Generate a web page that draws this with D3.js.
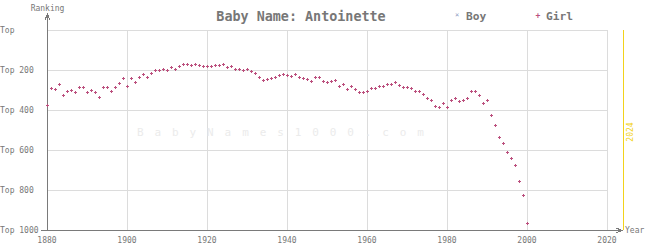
<!DOCTYPE html>
<html>
<head>
<meta charset="utf-8">
<style>
  body { margin: 0; background: #fff; }
  svg { display: block; font-family: "DejaVu Sans Mono", monospace; }
  .grid line { stroke: #dcdcdc; stroke-width: 1; shape-rendering: crispEdges; }
  .axis-line { stroke: #7a7a7a; stroke-width: 1; shape-rendering: crispEdges; fill: none; }
  .lbl { fill: #777; font-size: 8px; }
</style>
<title>Baby Name: Antoinette</title>
</head>
<body>
<script src="https://cdn.jsdelivr.net/npm/d3@7"></script>
<script>

// girl ranking per year (boy series has no entries)
var years = d3.range(1880, 2001);
var girlRanks = [
  375, 292, 297, 270, 325, 305, 302, 312, 287, 287,
  312, 302, 312, 337, 287, 287, 307, 287, 267, 242,
  280, 242, 262, 237, 222, 237, 217, 202, 202, 197,
  202, 187, 197, 182, 172, 172, 177, 172, 177, 181,
  182, 182, 177, 177, 172, 185, 180, 197, 197, 202,
  197, 207, 217, 237, 252, 247, 242, 237, 227, 222,
  227, 232, 222, 237, 242, 247, 257, 237, 237, 257,
  262, 257, 252, 282, 272, 297, 282, 297, 312, 312,
  307, 292, 292, 282, 282, 272, 272, 262, 277, 287,
  287, 292, 307, 307, 322, 342, 352, 382, 387, 367,
  387, 352, 342, 357, 352, 342, 307, 307, 327, 367,
  352, 427, 477, 537, 567, 612, 642, 677, 757, 827,
  967
];
var yearTicks = [1880, 1900, 1920, 1940, 1960, 1980, 2000, 2020];
var rankTicks = [0, 200, 400, 600, 800, 1000];
var currentYear = 2024;

var width = 645, height = 250;

var x = d3.scaleLinear().domain([1880, 2020]).range([47, 607]);
var y = d3.scaleLinear().domain([0, 1000]).range([30, 230]);

var svg = d3.select('body').append('svg')
  .attr('width', width)
  .attr('height', height);

// grid
var grid = svg.append('g').attr('class', 'grid');
grid.selectAll('.vg')
  .data(yearTicks.filter(d => d > 1880))
  .enter().append('line')
    .attr('x1', d => Math.round(x(d)) + 0.5)
    .attr('x2', d => Math.round(x(d)) + 0.5)
    .attr('y1', y(0))
    .attr('y2', y(1000));
grid.selectAll('.hg')
  .data(rankTicks.filter(d => d < 1000))
  .enter().append('line')
    .attr('x1', x(1880))
    .attr('x2', x(2020))
    .attr('y1', d => Math.round(y(d)) + 0.5)
    .attr('y2', d => Math.round(y(d)) + 0.5);

// watermark
svg.append('text')
  .attr('x', 137)
  .attr('y', 136)
  .attr('fill', '#ebebeb')
  .attr('font-size', '11px')
  .attr('letter-spacing', '10.9px')
  .text('BabyNames1000.com');

// current year line
svg.append('line')
  .attr('x1', Math.round(x(currentYear)) + 0.5)
  .attr('x2', Math.round(x(currentYear)) + 0.5)
  .attr('y1', y(0))
  .attr('y2', y(1000))
  .attr('stroke', '#f2d21b')
  .attr('stroke-width', 1);
svg.append('text')
  .attr('transform', `translate(${x(currentYear) + 10},${(y(0) + y(1000)) / 2 + 2}) rotate(-90)`)
  .attr('text-anchor', 'middle')
  .attr('fill', '#f2d21b')
  .attr('font-size', '8px')
  .text(currentYear);

// axes
var ax = Math.round(x(1880)) + 0.5, ay = Math.round(y(1000)) + 0.5;
svg.append('path').attr('class', 'axis-line')
  .attr('d', `M${ax},${ay}V15`);
svg.append('path').attr('class', 'axis-line')
  .attr('d', `M${ax - 2.5},20L${ax},14L${ax + 2.5},20`);
svg.append('path').attr('class', 'axis-line')
  .attr('d', `M${ax},${ay}H622`);
svg.append('path').attr('class', 'axis-line')
  .attr('d', `M616,${ay - 2.5}L622,${ay}L616,${ay + 2.5}`);
svg.append('path').attr('class', 'axis-line')
  .attr('d', `M${ax - 7},${ay}H${ax}`);

svg.append('text').attr('class', 'lbl')
  .attr('x', ax).attr('y', 11)
  .attr('text-anchor', 'middle')
  .text('Ranking');
svg.append('text').attr('class', 'lbl')
  .attr('x', 625).attr('y', 233)
  .text('Year');

// tick labels
svg.selectAll('.ylab')
  .data(rankTicks)
  .enter().append('text')
    .attr('class', 'lbl')
    .attr('x', 0)
    .attr('y', d => y(d) + 3)
    .text(d => d == 0 ? 'Top' : 'Top ' + d);
svg.selectAll('.xlab')
  .data(yearTicks)
  .enter().append('text')
    .attr('class', 'lbl')
    .attr('x', d => x(d))
    .attr('y', 243)
    .attr('text-anchor', 'middle')
    .text(d => d);

// title + legend
svg.append('text')
  .attr('x', 301).attr('y', 21)
  .attr('text-anchor', 'middle')
  .attr('fill', '#777')
  .attr('font-size', '13.4px')
  .attr('font-weight', 'bold')
  .text('Baby Name: Antoinette');

svg.append('text')
  .attr('x', 457).attr('y', 17)
  .attr('text-anchor', 'middle')
  .attr('fill', '#8a9bc0')
  .attr('font-size', '7px')
  .text('×');
svg.append('text')
  .attr('x', 466).attr('y', 20)
  .attr('fill', '#777')
  .attr('font-size', '11.2px')
  .attr('font-weight', 'bold')
  .text('Boy');
svg.append('text')
  .attr('x', 538).attr('y', 18)
  .attr('text-anchor', 'middle')
  .attr('fill', '#bb4f7d')
  .attr('font-size', '8px')
  .attr('font-weight', 'bold')
  .text('+');
svg.append('text')
  .attr('x', 546).attr('y', 20)
  .attr('fill', '#777')
  .attr('font-size', '11.2px')
  .attr('font-weight', 'bold')
  .text('Girl');

// girl points as small plus marks
var pts = svg.append('g')
  .attr('fill', '#bb4f7d')
  .attr('shape-rendering', 'crispEdges')
  .selectAll('g')
  .data(years.map((yr, i) => ({year: yr, rank: girlRanks[i]})))
  .enter().append('g')
    .attr('transform', d => `translate(${Math.round(x(d.year))},${Math.round(y(d.rank))})`);
pts.append('rect').attr('x', -1).attr('y', 0).attr('width', 3).attr('height', 1);
pts.append('rect').attr('x', 0).attr('y', -1).attr('width', 1).attr('height', 3);

</script>
</body>
</html>
